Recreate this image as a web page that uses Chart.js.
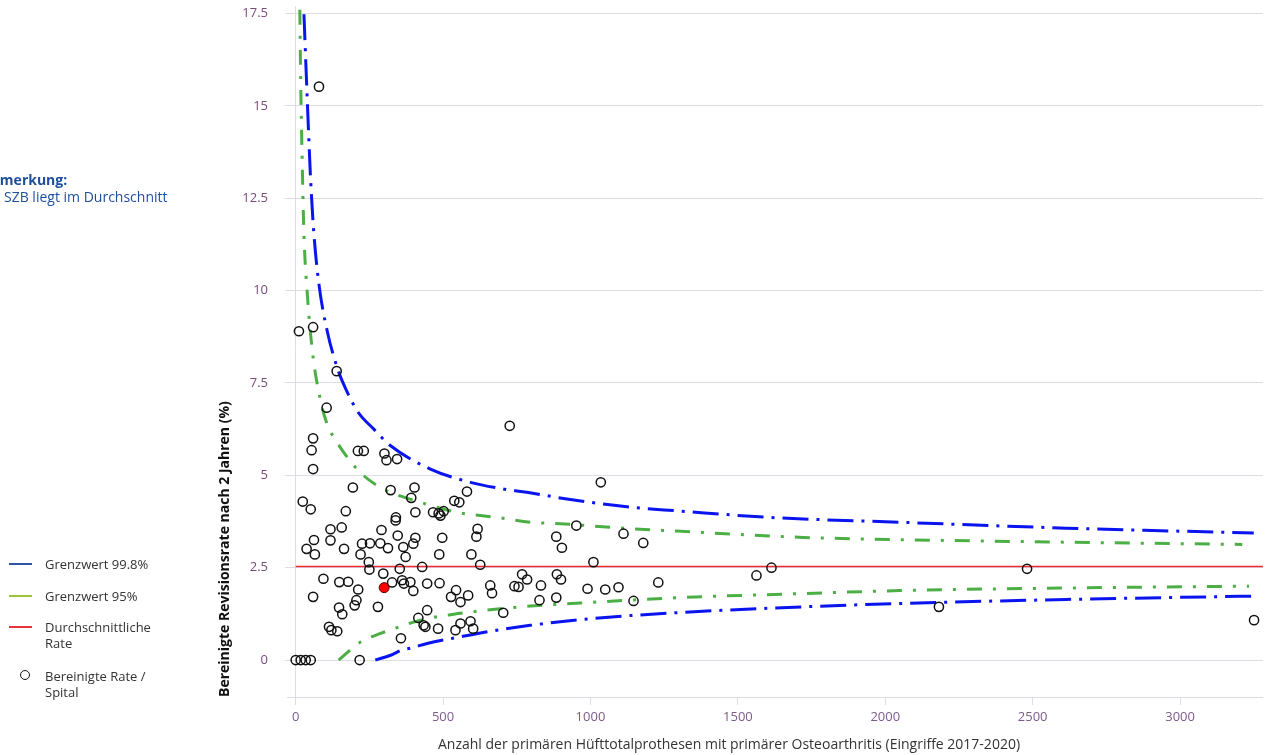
<!DOCTYPE html>
<html>
<head>
<meta charset="utf-8">
<script src="https://cdn.jsdelivr.net/npm/chart.js@4"></script>
<style>
  html, body { margin: 0; padding: 0; background: #fff; overflow: hidden; }
  body { width: 1269px; height: 755px; position: relative; font-family: 'Open Sans', sans-serif; }
  #myChart { position: absolute; left: 0; top: 0; }
  .note-title { position: absolute; left: -19px; top: 170px; font-size: 14px; font-weight: 700; color: #1f4f9c; white-space: nowrap; }
  .note-text { position: absolute; left: 4px; top: 187px; font-size: 14px; color: #1f4f9c; white-space: nowrap; }
  .legend { position: absolute; left: 0; top: 0; font-size: 13px; color: #333; }
  .legend .swatch { position: absolute; left: 9px; width: 23px; height: 2px; }
  .legend .ring { position: absolute; left: 20px; width: 8px; height: 8px; border: 1.5px solid #111; border-radius: 50%; }
  .legend .label { position: absolute; left: 45px; line-height: 16px; white-space: nowrap; }
  .xtitle { position: absolute; left: 438px; top: 734px; font-size: 14px; color: #333; white-space: nowrap; }
</style>
</head>
<body>
<canvas id="myChart" width="1269" height="755"></canvas>

<div class="note-title">Anmerkung:</div>
<div class="note-text">SZB liegt im Durchschnitt</div>

<div class="legend">
  <div class="swatch" style="top:563px;background:#2f54a3"></div>
  <div class="label" style="top:556px">Grenzwert 99.8%</div>
  <div class="swatch" style="top:595px;background:#9cc53a"></div>
  <div class="label" style="top:588px">Grenzwert 95%</div>
  <div class="swatch" style="top:626px;background:#e8333b"></div>
  <div class="label" style="top:619px">Durchschnittliche<br>Rate</div>
  <div class="ring" style="top:670px"></div>
  <div class="label" style="top:668px">Bereinigte Rate /<br>Spital</div>
</div>

<div class="xtitle">Anzahl der primären Hüfttotalprothesen mit primärer Osteoarthritis (Eingriffe 2017-2020)</div>

<script>
// data
const hospitalCases = [79, 11, 59, 139, 105, 59, 54, 59, 211, 231, 301, 308, 344, 194, 322, 24, 51, 170, 118, 156,
  291, 62, 118, 37, 65, 164, 225, 252, 287, 313, 220, 248, 250, 297, 94, 148, 178, 212, 327, 59,
  206, 200, 279, 147, 158, 113, 121, 141, 357, 0, 17, 34, 51, 217, 403, 392, 340, 339, 406, 466,
  485, 502, 491, 538, 555, 581, 617, 613, 346, 406, 399, 365, 373, 497, 487, 596, 626, 429, 353, 361,
  367, 389, 399, 446, 488, 544, 527, 559, 585, 660, 666, 446, 416, 434, 440, 483, 542, 559, 593, 602,
  704, 726, 1035, 952, 884, 903, 1112, 1179, 1010, 768, 785, 742, 756, 832, 886, 900, 990, 1050, 1095, 1230,
  827, 884, 1146, 1563, 1614, 2481, 2182, 3251];
const hospitalRates = [15.52, 8.90, 9.01, 7.82, 6.83, 6.00, 5.68, 5.17, 5.66, 5.66, 5.59, 5.41, 5.44, 4.67, 4.60, 4.29, 4.08, 4.03, 3.54, 3.59,
  3.52, 3.25, 3.24, 3.01, 2.86, 3.01, 3.15, 3.16, 3.16, 3.03, 2.86, 2.65, 2.45, 2.34, 2.20, 2.11, 2.12, 1.91, 2.10, 1.71,
  1.62, 1.48, 1.44, 1.42, 1.24, 0.90, 0.81, 0.78, 0.59, 0, 0, 0, 0, 0, 4.67, 4.39, 3.86, 3.78, 4.00, 4.00,
  3.97, 4.03, 3.91, 4.31, 4.27, 4.56, 3.55, 3.34, 3.37, 3.31, 3.15, 3.06, 2.79, 3.31, 2.86, 2.86, 2.58, 2.52, 2.47, 2.16,
  2.07, 2.11, 1.87, 2.07, 2.08, 1.89, 1.71, 1.57, 1.75, 2.02, 1.81, 1.35, 1.14, 0.94, 0.90, 0.85, 0.81, 0.99, 1.05, 0.85,
  1.28, 6.34, 4.81, 3.64, 3.34, 3.04, 3.42, 3.17, 2.65, 2.32, 2.18, 2.00, 1.98, 2.02, 2.32, 2.18, 1.93, 1.91, 1.97, 2.10,
  1.62, 1.69, 1.60, 2.29, 2.50, 2.47, 1.44, 1.08];

const szbCases = [300];
const szbRates = [1.96];

const averageRate = 2.53;
const averageCases = [0, 3281];

const upper998Cases = [28, 40, 51, 62, 79, 107, 141, 158, 209, 265, 322, 457, 593, 705, 784, 920, 1146, 1292, 1608, 2049, 2613, 3250];
const upper998Rates = [17.48, 15.01, 12.94, 11.51, 10.16, 8.90, 7.91, 7.55, 6.74, 6.25, 5.80, 5.17, 4.81, 4.63, 4.54, 4.36, 4.13, 4.04, 3.86, 3.73, 3.57, 3.44];
const lower998Cases = [270, 322, 360, 389, 446, 547, 660, 796, 999, 1290, 1721, 2049, 2613, 3244];
const lower998Rates = [0, 0.13, 0.27, 0.32, 0.45, 0.61, 0.78, 0.94, 1.12, 1.28, 1.44, 1.53, 1.64, 1.73];

const upper95Cases = [14, 17, 22.6, 28, 39.6, 56.5, 84.7, 107, 130, 214, 288, 423, 547, 683, 796, 897, 1146, 1292, 1721, 2049, 2613, 3211];
const upper95Rates = [17.6, 15.64, 13.3, 11.51, 9.89, 8.36, 7.01, 6.38, 6.02, 5.12, 4.67, 4.27, 4.00, 3.86, 3.73, 3.69, 3.55, 3.49, 3.32, 3.26, 3.19, 3.13];
const lower95Cases = [146, 220, 288, 353, 423, 536, 626, 694, 796, 999, 1303, 1721, 2049, 2613, 3234];
const lower95Rates = [0, 0.49, 0.72, 0.90, 1.08, 1.24, 1.33, 1.39, 1.46, 1.56, 1.69, 1.80, 1.88, 1.95, 2.00];

const xTicks = [0, 500, 1000, 1500, 2000, 2500, 3000];
const yTicks = [0, 2.5, 5, 7.5, 10, 12.5, 15, 17.5];

const toPoints = (xs, ys) => xs.map((x, i) => ({ x: x, y: ys[i] }));

const BLUE = '#0a14f0';
const GREEN = '#4caf45';
const GRID = '#dcdee6';

const limitLine = (label, xs, ys, color, dash) => ({
  type: 'line',
  label: label,
  data: toPoints(xs, ys),
  borderColor: color,
  borderWidth: 3,
  borderDash: dash,
  pointRadius: 0,
  fill: false,
  cubicInterpolationMode: 'monotone',
  order: 2
});

const data = {
  datasets: [
    {
      type: 'scatter',
      label: 'SZB',
      data: toPoints(szbCases, szbRates),
      backgroundColor: '#ff0000',
      borderColor: '#5a0000',
      borderWidth: 1,
      pointRadius: 5,
      order: -1
    },
    {
      type: 'scatter',
      label: 'Bereinigte Rate / Spital',
      data: toPoints(hospitalCases, hospitalRates),
      backgroundColor: 'rgba(0,0,0,0)',
      borderColor: '#111',
      borderWidth: 1.5,
      pointRadius: 4.6,
      order: 0
    },
    {
      type: 'line',
      label: 'Durchschnittliche Rate',
      data: averageCases.map(x => ({ x: x, y: averageRate })),
      borderColor: '#ee2a36',
      borderWidth: 1.5,
      pointRadius: 0,
      order: 1
    },
    limitLine('Grenzwert 99.8% oben', upper998Cases, upper998Rates, BLUE, [26, 8, 3, 8]),
    limitLine('Grenzwert 99.8% unten', lower998Cases, lower998Rates, BLUE, [26, 8, 3, 8]),
    limitLine('Grenzwert 95% oben', upper95Cases, upper95Rates, GREEN, [15, 11, 3, 11]),
    limitLine('Grenzwert 95% unten', lower95Cases, lower95Rates, GREEN, [15, 11, 3, 11])
  ]
};

Chart.defaults.font.family = "'Open Sans', sans-serif";

const config = {
  type: 'scatter',
  data,
  options: {
    responsive: false,
    animation: false,
    devicePixelRatio: 1,
    layout: { padding: { left: 210, top: 4, right: 6, bottom: 0 } },
    plugins: {
      legend: { display: false },
      tooltip: { enabled: false }
    },
    scales: {
      x: {
        type: 'linear',
        min: -29.5,
        max: 3281,
        afterFit: (scale) => {
          scale.height = 58;
          scale.paddingLeft = 0;
          scale.paddingRight = 0;
        },
        afterBuildTicks: (scale) => { scale.ticks = xTicks.map(v => ({ value: v })); },
        ticks: {
          callback: (v) => String(v),
          color: '#7d5a8c',
          font: { size: 13 },
          padding: 4,
          maxRotation: 0
        },
        grid: {
          drawOnChartArea: true,
          color: (ctx) => (ctx.tick && ctx.tick.value === 0) ? GRID : 'rgba(0,0,0,0)',
          tickColor: GRID,
          tickLength: 8
        },
        border: { display: true, color: GRID }
      },
      y: {
        type: 'linear',
        min: -1.0,
        max: 17.7,
        afterFit: (scale) => {
          scale.width = 77;
          scale.paddingTop = 0;
          scale.paddingBottom = 0;
        },
        afterBuildTicks: (scale) => { scale.ticks = yTicks.map(v => ({ value: v })); },
        ticks: {
          callback: (v) => String(v),
          color: '#7c4a7e',
          font: { size: 13 },
          padding: 17
        },
        grid: {
          color: GRID,
          tickColor: GRID,
          tickLength: 2
        },
        border: { display: false },
        title: {
          display: true,
          text: 'Bereinigte Revisionsrate nach 2 Jahren (%)',
          align: 'start',
          color: '#111',
          font: { size: 14, weight: 'bold' },
          padding: { top: 7, bottom: 0 }
        }
      }
    }
  }
};

const myChart = new Chart(document.getElementById('myChart'), config);
</script>
</body>
</html>
